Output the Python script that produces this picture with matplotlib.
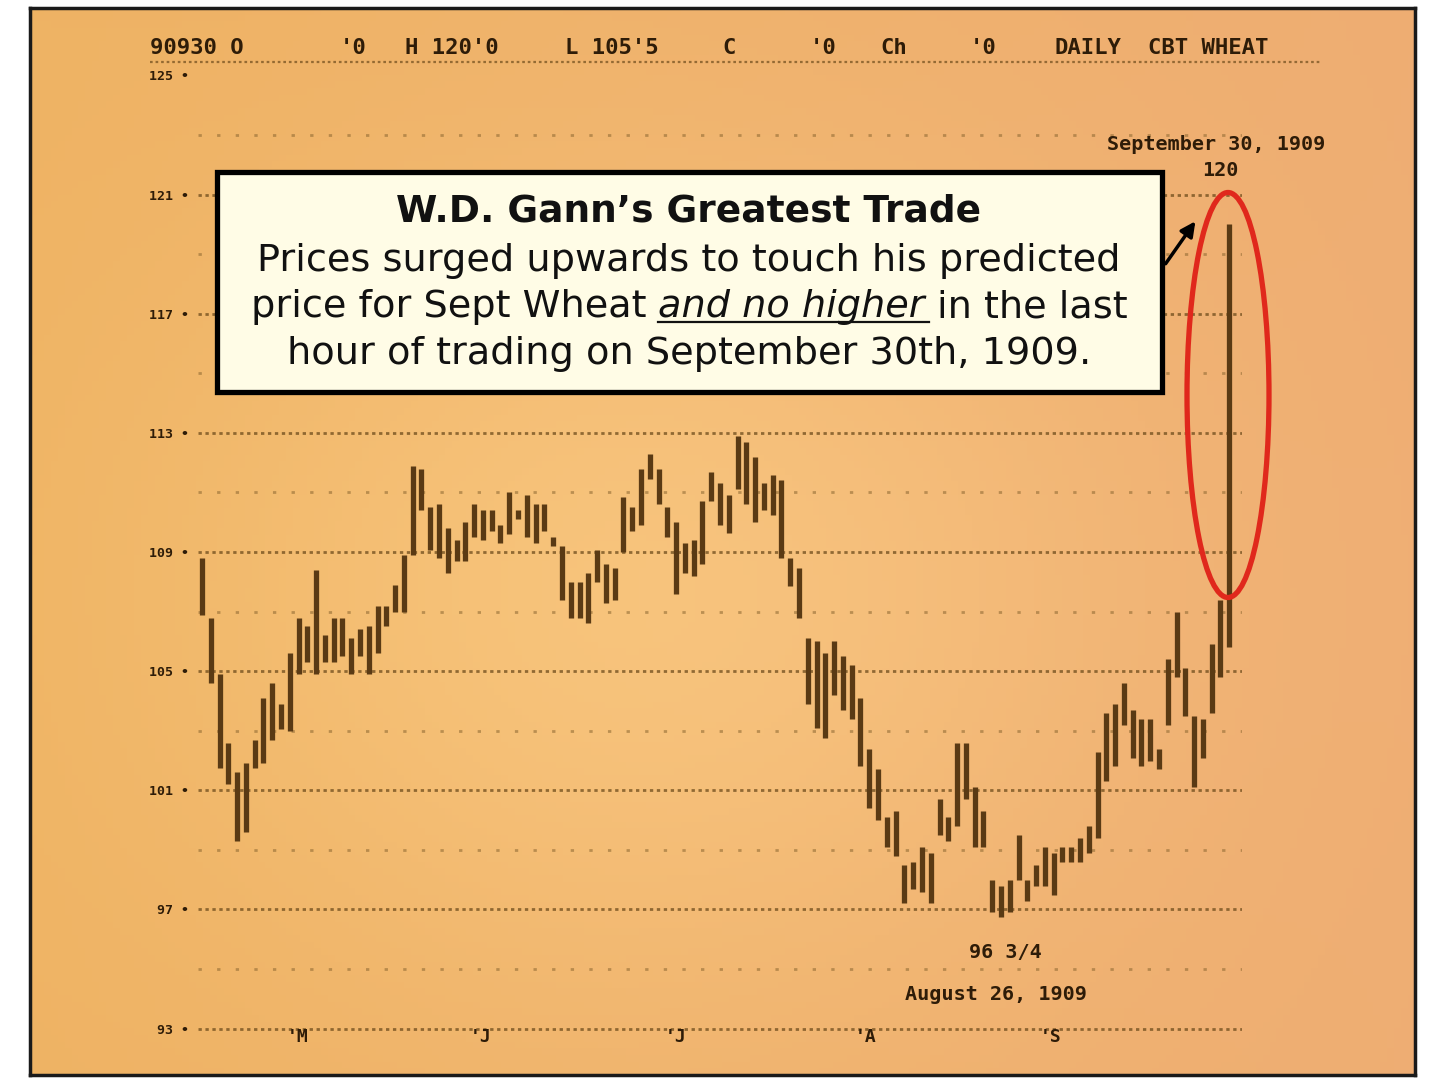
import numpy as np
import matplotlib
matplotlib.use("Agg")
import matplotlib.pyplot as plt
from matplotlib.patches import Ellipse, Rectangle, FancyArrowPatch

# ---------------- data ----------------
highs = [108.8, 106.8, 104.9, 102.6, 101.6, 101.9, 102.7, 104.1, 104.6, 103.9,
         105.6, 106.8, 106.5, 108.4, 106.2, 106.8, 106.8, 106.1, 106.4, 106.5,
         107.2, 107.2, 107.9, 108.9, 111.9, 111.8, 110.5, 110.6, 109.8, 109.4,
         110.0, 110.6, 110.4, 110.4, 109.9, 111.0, 110.4, 110.9, 110.6, 110.6,
         109.5, 109.2, 108.0, 108.0, 108.3, 109.05, 108.6, 108.45, 110.85, 110.5,
         111.8, 112.3, 111.8, 110.5, 110.0, 109.3, 109.4, 110.7, 111.7, 111.3,
         110.9, 112.9, 112.7, 112.2, 111.3, 111.6, 111.4, 108.8, 108.45, 106.1,
         106.0, 105.6, 106.0, 105.5, 105.2, 104.1, 102.4, 101.7, 100.1, 100.3,
         98.5, 98.6, 99.1, 98.9, 100.7, 100.1, 102.6, 102.6, 101.1, 100.3,
         98.0, 97.8, 98.0, 99.5, 98.0, 98.5, 99.1, 98.9, 99.1, 99.1,
         99.4, 99.8, 102.3, 103.6, 103.9, 104.6, 103.7, 103.4, 103.4, 102.4,
         105.4, 107.0, 105.1, 103.5, 103.4, 105.9, 107.4, 120.0]
lows = [106.9, 104.6, 101.75, 101.2, 99.3, 99.6, 101.75, 101.9, 102.7, 103.05,
        103.0, 104.9, 105.3, 104.9, 105.3, 105.3, 105.5, 104.9, 105.5, 104.9,
        105.6, 106.5, 107.0, 107.0, 108.9, 110.4, 109.05, 108.8, 108.3, 108.7,
        108.7, 109.5, 109.4, 109.7, 109.3, 109.6, 110.1, 109.5, 109.3, 109.7,
        109.2, 107.4, 106.8, 106.8, 106.6, 108.0, 107.3, 107.4, 109.0, 109.7,
        109.9, 111.45, 110.6, 109.5, 107.6, 108.3, 108.2, 108.6, 110.7, 109.9,
        109.65, 111.1, 110.6, 110.0, 110.4, 110.25, 108.8, 107.85, 106.8, 103.9,
        103.1, 102.75, 104.2, 103.7, 103.4, 101.8, 100.4, 100.0, 99.1, 98.8,
        97.2, 97.7, 97.6, 97.2, 99.5, 99.3, 99.8, 100.7, 99.1, 99.1,
        96.9, 96.75, 96.9, 98.0, 97.3, 97.8, 97.8, 97.5, 98.6, 98.6,
        98.6, 98.9, 99.4, 101.3, 101.8, 103.2, 102.1, 101.8, 102.0, 101.7,
        103.2, 104.8, 103.5, 101.1, 102.1, 103.6, 104.8, 105.8]
major_levels = [125, 121, 117, 113, 109, 105, 101, 97, 93]
minor_levels = [123, 119, 115, 111, 107, 103, 99, 95]
month_labels = ["'M", "'J", "'J", "'A", "'S"]
month_pos = [9.7, 30.5, 52.7, 74.4, 95.4]
header_parts = ["90930 O", "'0", "H 120'0", "L 105'5", "C", "'0", "Ch", "'0",
                "DAILY", "CBT WHEAT"]
high_note = ["September 30, 1909", "120"]
low_note = ["96 3/4", "August 26, 1909"]
title_text = "W.D. Gann\u2019s Greatest Trade"
body_lines = ["Prices surged upwards to touch his predicted",
              ["price for Sept Wheat", "and no higher", "in the last"],
              "hour of trading on September 30th, 1909."]

# ---------------- layout helpers ----------------
W, H = 1440, 1080
def fx(px):
    return px / W
def fy(py):
    return 1 - py / H

BAR = "#5a3a14"
INK = "#2e1c08"
MONO = "DejaVu Sans Mono"
TF = "DejaVu Sans"
BODY_FS = 27.5
TITLE_FS = 27

fig = plt.figure(figsize=(14.4, 10.8), dpi=100, facecolor="white")

# paper background with soft gradient
bg = fig.add_axes([fx(30), fy(1075), (1415 - 30) / W, (1075 - 8) / H])
gx, gy = np.meshgrid(np.linspace(0, 1, 200), np.linspace(0, 1, 160))
glow = np.exp(-((gx - 0.45) ** 2 / 0.12 + (gy - 0.55) ** 2 / 0.15))
r = np.clip(0.935 + 0.035 * glow, 0, 1)
g = np.clip(0.70 + 0.075 * glow - 0.02 * gx, 0, 1)
b = np.clip(0.39 + 0.07 * glow + 0.06 * gx, 0, 1)
bg.imshow(np.dstack([r, g, b]), aspect="auto", extent=[0, 1, 0, 1], origin="upper")
bg.set_xticks([]); bg.set_yticks([])
for s in bg.spines.values():
    s.set_color("#1a1a1a"); s.set_linewidth(2.5)

# main price axes
ax = fig.add_axes([0.1372, 0.0338, 0.7256, 0.924])
ax.patch.set_alpha(0)
x = np.arange(len(highs))
ax.set_xlim(-0.5, len(highs) + 0.5)
ax.set_ylim(92.5, 126)
for s in ax.spines.values():
    s.set_visible(False)

ax.hlines(major_levels[1:], -0.5, len(highs) + 0.5, colors="#6e4c1c",
          linestyles=(0, (1.2, 1.3)), lw=2.0, alpha=0.75, zorder=1)
ax.hlines(minor_levels, -0.5, len(highs) + 0.5, colors="#8a6630",
          linestyles=(0, (1.2, 5.5)), lw=2.0, alpha=0.55, zorder=1)

ax.vlines(x, lows, highs, colors=BAR, lw=3.8, zorder=3)

ax.set_xticks([])
ax.set_yticks(major_levels)
ax.set_yticklabels([f"{v} \u2022" for v in major_levels], family=MONO,
                   fontsize=9.5, fontweight="bold", color=INK)
ax.tick_params(axis="y", length=0, pad=6)

for lab, pos in zip(month_labels, month_pos):
    ax.text(pos, 92.72, lab, ha="left", va="center", family=MONO,
            fontsize=13, fontweight="bold", color=INK)

# header line
header_x = [150, 340, 405, 565, 722, 810, 880, 970, 1055, 1148]
for txt, px in zip(header_parts, header_x):
    fig.text(fx(px), fy(48), txt, ha="left", va="center", family=MONO,
             fontsize=16, fontweight="bold", color=INK)
fig.add_artist(plt.Line2D([fx(150), fx(1320)], [fy(62), fy(62)],
                          transform=fig.transFigure, color="#6e4c1c",
                          ls=(0, (1.2, 1.3)), lw=1.6, alpha=0.7))

# notes near extremes
fig.text(fx(1216), fy(145), high_note[0], ha="center", va="center", family=MONO,
         fontsize=14.5, fontweight="bold", color=INK)
fig.text(fx(1220), fy(170), high_note[1], ha="center", va="center", family=MONO,
         fontsize=14.5, fontweight="bold", color=INK)
fig.text(fx(1005), fy(953), low_note[0], ha="center", va="center", family=MONO,
         fontsize=14.5, fontweight="bold", color=INK)
fig.text(fx(996), fy(994), low_note[1], ha="center", va="center", family=MONO,
         fontsize=14.5, fontweight="bold", color=INK)

# annotation box
fig.add_artist(Rectangle((fx(217), fy(392)), (1162 - 217) / W, (392 - 172) / H,
                         transform=fig.transFigure, fc="#fffce6", ec="black",
                         lw=3.8, zorder=5))
fig.text(fx(689), fy(222), title_text, ha="center", va="baseline", family=TF,
         fontsize=TITLE_FS, fontweight="bold", color="#111111", zorder=6)
fig.text(fx(689), fy(271), body_lines[0], ha="center", va="baseline", family=TF,
         fontsize=BODY_FS, color="#111111", zorder=6)
fig.text(fx(689), fy(364), body_lines[2], ha="center", va="baseline", family=TF,
         fontsize=BODY_FS, color="#111111", zorder=6)

renderer = fig.canvas.get_renderer()
def width_px(s, **kw):
    t = fig.text(0, 0, s, family=TF, fontsize=BODY_FS, **kw)
    w = t.get_window_extent(renderer).width
    t.remove()
    return w
space = width_px("a a") - width_px("aa")
p1, p2, p3 = body_lines[1]
w1 = width_px(p1)
w2 = width_px(p2, style="italic")
w3 = width_px(p3)
total = w1 + w2 + w3 + 2 * space
start = 689 - total / 2
base_y = 317
fig.text(fx(start), fy(base_y), p1, ha="left", va="baseline", family=TF,
         fontsize=BODY_FS, color="#111111", zorder=6)
x2 = start + w1 + space
fig.text(fx(x2), fy(base_y), p2, ha="left", va="baseline", family=TF,
         fontsize=BODY_FS, style="italic", color="#111111", zorder=6)
fig.add_artist(plt.Line2D([fx(x2), fx(x2 + w2 + 4)], [fy(base_y + 5), fy(base_y + 5)],
                          transform=fig.transFigure, color="#111111", lw=1.6, zorder=6))
fig.text(fx(x2 + w2 + space), fy(base_y), p3, ha="left", va="baseline", family=TF,
         fontsize=BODY_FS, color="#111111", zorder=6)

# arrow and red ellipse
fig.add_artist(FancyArrowPatch((fx(1164), fy(266)), (fx(1197), fy(219)),
                               transform=fig.transFigure, arrowstyle="-|>",
                               mutation_scale=22, lw=2.5, color="black", zorder=6))
fig.add_artist(Ellipse((fx(1228), fy(395)), 82 / W, 405 / H,
                       transform=fig.transFigure, fill=False, ec="#e0281c",
                       lw=3.8, zorder=7))

fig.savefig("out.png", dpi=100, facecolor="white")
